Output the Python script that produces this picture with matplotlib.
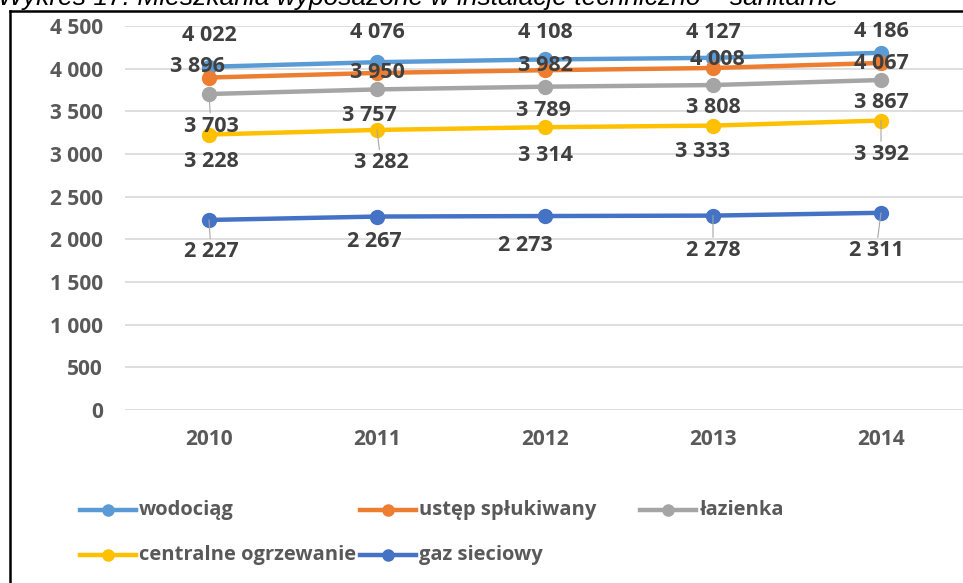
import matplotlib
matplotlib.use("Agg")
import matplotlib.pyplot as plt
from matplotlib.lines import Line2D

# dane
years = ["2010", "2011", "2012", "2013", "2014"]
wodociag = [4022, 4076, 4108, 4127, 4186]
ustep = [3896, 3950, 3982, 4008, 4067]
lazienka = [3703, 3757, 3789, 3808, 3867]
centralne = [3228, 3282, 3314, 3333, 3392]
gaz = [2227, 2267, 2273, 2278, 2311]

series_names = ["wodociąg", "ustęp spłukiwany", "łazienka", "centralne ogrzewanie", "gaz sieciowy"]
series_values = [wodociag, ustep, lazienka, centralne, gaz]
colors = ["#5B9BD5", "#ED7D31", "#A5A5A5", "#FFC000", "#4472C4"]
title = "Wykres 17. Mieszkania wyposażone w instalacje techniczno – sanitarne"

# przesuniecia etykiet (piksele) - recznie jak w Excelu
label_offsets = [
    [(0, 31), (0, 30), (0, 27), (0, 25), (0, 21)],
    [(-12, 11), (0, 0), (0, 5), (4, 8), (0, -1)],
    [(2, -32), (-8, -26), (-2, -24), (0, -22), (0, -22)],
    [(2, -27), (4, -33), (0, -28), (-10, -26), (0, -34)],
    [(2, -32), (-3, -25), (-20, -29), (0, -35), (-5, -38)],
]
leaders = {(2, 0), (3, 1), (3, 4), (4, 0), (4, 3), (4, 4)}

FONT = ["Open Sans", "DejaVu Sans"]

W, H = 963, 583
fig = plt.figure(figsize=(W / 100, H / 100), dpi=100)
ax = fig.add_axes([125 / W, 1 - 410 / H, 840 / W, 384 / H])

x = list(range(len(years)))
for i, (name, vals) in enumerate(zip(series_names, series_values)):
    ax.plot(x, vals, color=colors[i], lw=3.2, marker="o", ms=10, zorder=3 + i * 0.01)

for i, vals in enumerate(series_values):
    for j, v in enumerate(vals):
        dx, dy = label_offsets[i][j]
        txt = f"{v:,}".replace(",", " ")
        arrow = None
        if (i, j) in leaders:
            arrow = dict(arrowstyle="-", color="#A6A6A6", lw=0.8, shrinkA=0, shrinkB=0)
        ax.annotate(txt, (j, v), xytext=(dx, dy), textcoords="offset pixels",
                    ha="center", va="center", fontsize=15.5, fontweight="bold",
                    family=FONT, color="#404040", arrowprops=arrow, zorder=6)

ax.set_xlim(-0.5, 4.5)
ax.set_ylim(0, 4500)
ax.set_yticks(range(0, 4501, 500))
ax.set_yticklabels([f"{t:,}".replace(",", " ") for t in range(0, 4501, 500)])
ax.set_xticks(x)
ax.set_xticklabels(years)
ax.grid(axis="y", color="#D9D9D9", lw=1.2)
ax.set_axisbelow(True)
for s in ax.spines.values():
    s.set_visible(False)
ax.tick_params(length=0, colors="#595959")
ax.tick_params(axis="y", pad=16)
ax.tick_params(axis="x", pad=14)
for lab in ax.get_xticklabels() + ax.get_yticklabels():
    lab.set_fontsize(15)
    lab.set_fontweight("bold")
    lab.set_family(FONT)

# legenda rysowana recznie (uklad jak w Excelu)
legend_pos = [(80, 510), (360, 510), (640, 510), (80, 555), (360, 555)]
for i, name in enumerate(series_names):
    lx, ly = legend_pos[i]
    fy = 1 - ly / H
    fig.add_artist(Line2D([lx / W, (lx + 56) / W], [fy, fy], transform=fig.transFigure,
                          color=colors[i], lw=3.2))
    fig.add_artist(Line2D([(lx + 28) / W], [fy], transform=fig.transFigure,
                          color=colors[i], marker="o", ms=8))
    fig.text((lx + 59) / W, fy, name, ha="left", va="center", fontsize=14.5,
             fontweight="bold", family=FONT, color="#595959")

# ramka wykresu
fig.add_artist(Line2D([10 / W, 10 / W], [0, 1 - 11 / H], transform=fig.transFigure,
                      color="black", lw=1.8))
fig.add_artist(Line2D([10 / W, 1], [1 - 11 / H, 1 - 11 / H], transform=fig.transFigure,
                      color="black", lw=1.8))

# tytul - w oryginale uciety u gory
fig.text(-0.002, 1 - 5 / H, title, ha="left", va="baseline", fontsize=19, style="italic",
         family=["Liberation Sans", "DejaVu Sans"], color="black")

fig.savefig("out.png", dpi=100)
